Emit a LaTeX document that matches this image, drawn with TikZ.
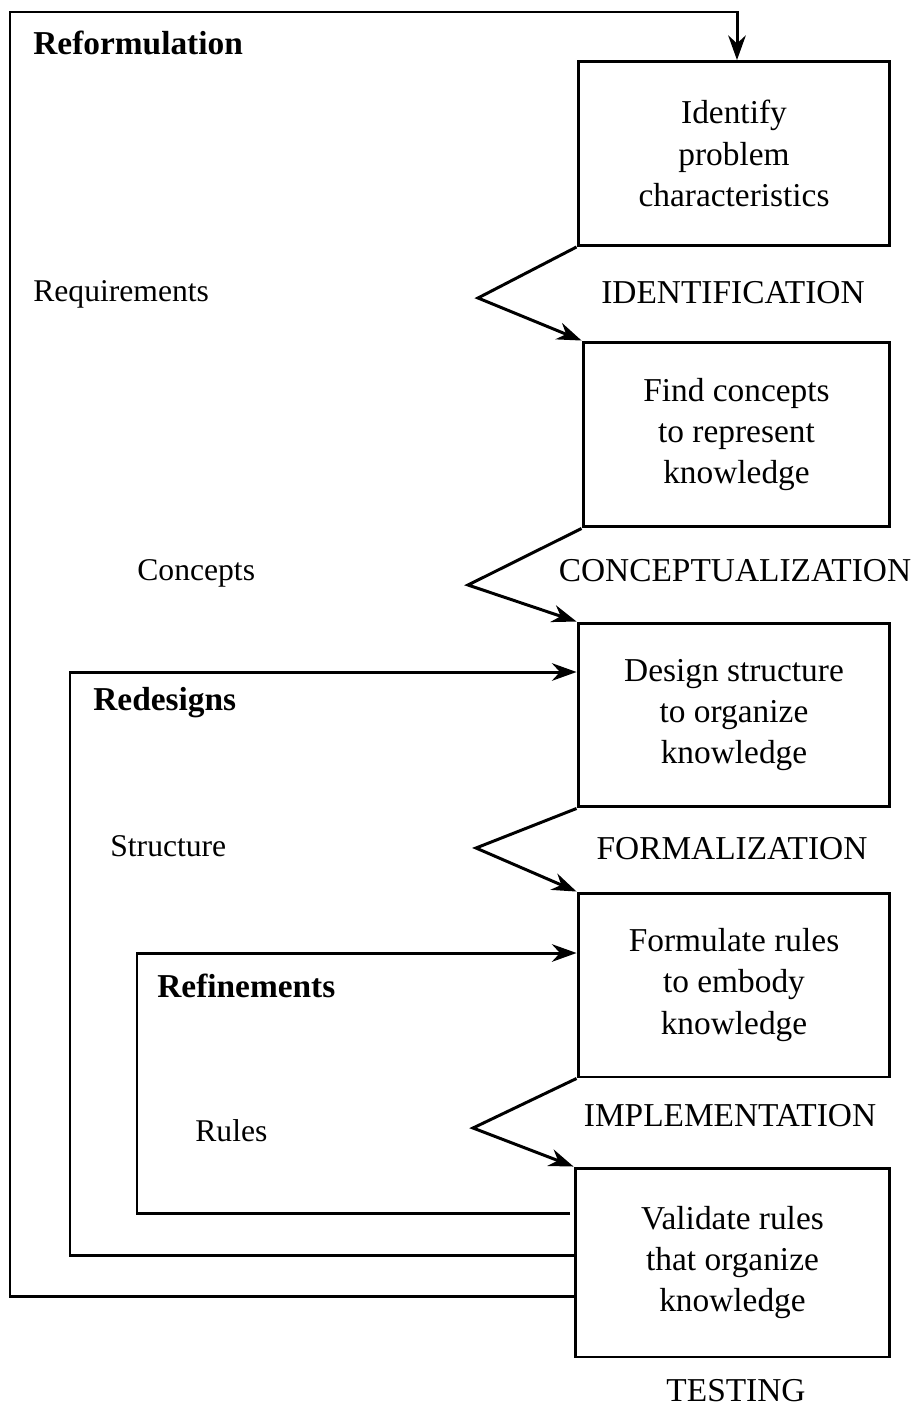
\documentclass[tikz,border=0pt]{standalone}
\usepackage{fontspec}
\setmainfont{Liberation Serif}
\usetikzlibrary{arrows.meta}

\tikzset{
    stagebox/.style={draw, line width=1.7pt, minimum width=6.24cm, minimum height=3.68cm,
        align=center, font=\fontsize{19}{23.5}\selectfont},
    stagename/.style={font=\fontsize{19}{24}\selectfont},
    sidename/.style={anchor=west, inner xsep=0pt, font=\fontsize{18}{22}\selectfont},
    loopname/.style={anchor=west, inner xsep=0pt, font=\fontsize{19}{22}\selectfont\bfseries},
    flow/.style={line width=1.7pt, -{Stealth[length=14pt, width=10pt]}},
    feedback/.style={line width=1.7pt, -{Stealth[length=14pt, width=10pt]}}
}

\begin{document}
\begin{tikzpicture}[x=0.02cm, y=-0.02cm]

    \useasboundingbox (0,0) rectangle (923,1410);

    % the five steps
    \node[stagebox] (identify) at (734,153.5) {Identify\\problem\\characteristics};
    \node[stagebox, minimum width=6.14cm, minimum height=3.7cm] (concepts) at (736.5,434.5) {Find concepts\\to represent\\knowledge};
    \node[stagebox] (design) at (734,715) {Design structure\\to organize\\knowledge};
    \node[stagebox] (formulate) at (734,985) {Formulate rules\\to embody\\knowledge};
    \node[stagebox, minimum width=6.3cm, minimum height=3.78cm] (validate) at (732.5,1262.5) {Validate rules\\that organize\\knowledge};

    % stage names
    \node[stagename] (identification) at (733,293) {IDENTIFICATION};
    \node[stagename] (conceptualization) at (735,571) {CONCEPTUALIZATION};
    \node[stagename] (formalization) at (732,849) {FORMALIZATION};
    \node[stagename] (implementation) at (730,1116) {IMPLEMENTATION};
    \node[stagename] (testing) at (736,1391) {TESTING};

    % what is handed on
    \node[sidename] (requirements) at (33,294) {Requirements};
    \node[sidename] (conceptsname) at (137,573) {Concepts};
    \node[sidename] (structure) at (110,846) {Structure};
    \node[sidename] (rules) at (195,1131) {Rules};

    % chevrons between steps
    \coordinate (apexA) at (478,298);
    \coordinate (apexB) at (468,585);
    \coordinate (apexC) at (476,848);
    \coordinate (apexD) at (473,1128);
    \draw[flow] (identify.south west) -- (apexA) -- (concepts.north west);
    \draw[flow] (concepts.south west) -- (apexB) -- (design.north west);
    \draw[flow] (design.south west) -- (apexC) -- (formulate.north west);
    \draw[flow] (formulate.south west) -- (apexD) -- (validate.north west);

    % loops back
    \coordinate (refA) at (10,1296);
    \coordinate (refB) at (10,12);
    \coordinate (refC) at (737,12);
    \draw[feedback] (validate.west |- refA) -- (refA) -- (refB) -- (refC) -- (identify.north -| refC);
    \node[loopname] (reformulation) at (33,43) {Reformulation};

    \coordinate (redA) at (70,1255);
    \coordinate (redB) at (70,672);
    \draw[feedback] (validate.west |- redA) -- (redA) -- (redB) -- (design.west |- redB);
    \node[loopname] (redesigns) at (93,703) {Redesigns};

    \coordinate (refnA) at (137,1213);
    \coordinate (refnB) at (137,953);
    \draw[feedback] ([xshift=-2pt]validate.west |- refnA) -- (refnA) -- (refnB) -- (formulate.west |- refnB);
    \node[loopname] (refinements) at (157,986) {Refinements};

\end{tikzpicture}
\end{document}
